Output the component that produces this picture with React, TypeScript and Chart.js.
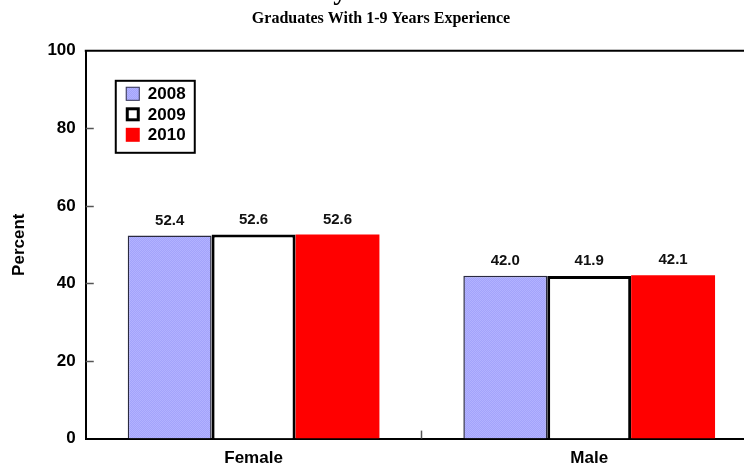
import React, { useEffect, useRef } from "react";
import { Chart, registerables } from "chart.js";

Chart.register(...registerables);

const categories = ["Female", "Male"];
const seriesLabels = ["2008", "2009", "2010"];
const values2008 = [52.4, 42.0];
const values2009 = [52.6, 41.9];
const values2010 = [52.6, 42.1];
const yTickValues = [0, 20, 40, 60, 80, 100];
const titleLines = ["Percent of Graduates", "by Gender"];
const subtitleText = "Graduates With 1-9 Years Experience";
const yAxisTitle = "Percent";

const SANS = "Arial, 'Liberation Sans', sans-serif";
const SERIF = "'Times New Roman', 'Liberation Serif', serif";

const frameAndTicks = {
  id: "frameAndTicks",
  afterDraw(chart: any) {
    const { ctx, chartArea } = chart;
    const y = chart.scales.y;
    const x = chart.scales.x;
    ctx.save();
    ctx.strokeStyle = "#000";
    ctx.lineWidth = 2;
    ctx.beginPath();
    ctx.moveTo(chartArea.left - 1, chartArea.top);
    ctx.lineTo(chartArea.right, chartArea.top);
    ctx.stroke();
    ctx.strokeStyle = "#555";
    ctx.lineWidth = 1.5;
    yTickValues.forEach((v) => {
      if (v === 0 || v === 100) return;
      const py = Math.round(y.getPixelForValue(v)) + 0.5;
      ctx.beginPath();
      ctx.moveTo(chartArea.left, py);
      ctx.lineTo(chartArea.left + 8, py);
      ctx.stroke();
    });
    for (let i = 0; i < categories.length - 1; i++) {
      const px = Math.round((x.getPixelForValue(i) + x.getPixelForValue(i + 1)) / 2) + 0.5;
      ctx.beginPath();
      ctx.moveTo(px, chartArea.bottom);
      ctx.lineTo(px, chartArea.bottom - 8);
      ctx.stroke();
    }
    ctx.restore();
  },
};

const valueLabels = {
  id: "valueLabels",
  afterDatasetsDraw(chart: any) {
    const { ctx } = chart;
    ctx.save();
    ctx.font = `bold 15px ${SANS}`;
    ctx.fillStyle = "#111";
    ctx.textAlign = "center";
    ctx.textBaseline = "middle";
    chart.data.datasets.forEach((ds: any, di: number) => {
      const meta = chart.getDatasetMeta(di);
      meta.data.forEach((el: any, i: number) => {
        ctx.fillText(Number(ds.data[i]).toFixed(1), el.x, el.y - 15);
      });
    });
    ctx.restore();
  },
};

const insideLegend = {
  id: "insideLegend",
  afterDraw(chart: any) {
    const { ctx, chartArea } = chart;
    const bx = chartArea.left + 30;
    const by = chartArea.top + 30;
    const bw = 79;
    const bh = 72;
    ctx.save();
    ctx.fillStyle = "#fff";
    ctx.fillRect(bx, by, bw, bh);
    ctx.strokeStyle = "#000";
    ctx.lineWidth = 2;
    ctx.strokeRect(bx, by, bw, bh);
    ctx.font = `bold 17px ${SANS}`;
    ctx.textBaseline = "middle";
    ctx.textAlign = "left";
    chart.data.datasets.forEach((ds: any, i: number) => {
      const cy = by + 13 + i * 20.5;
      const sx = bx + 10;
      const s = 14;
      ctx.fillStyle = ds.legendFill;
      ctx.fillRect(sx, cy - s / 2, s, s);
      if (ds.legendBorderWidth > 0) {
        ctx.strokeStyle = ds.legendBorder;
        ctx.lineWidth = ds.legendBorderWidth;
        const o = ds.legendBorderWidth / 2;
        ctx.strokeRect(sx + o, cy - s / 2 + o, s - 2 * o, s - 2 * o);
      }
      ctx.fillStyle = "#000";
      ctx.fillText(ds.label, bx + 32, cy + 1);
    });
    ctx.restore();
  },
};

function makePattern(): any {
  const c = document.createElement("canvas");
  c.width = 2;
  c.height = 2;
  const g = c.getContext("2d")!;
  g.fillStyle = "#a3a3fb";
  g.fillRect(0, 0, 2, 2);
  g.fillStyle = "#b2b2ff";
  g.fillRect(0, 0, 1, 1);
  g.fillRect(1, 1, 1, 1);
  const ctx = document.createElement("canvas").getContext("2d")!;
  return ctx.createPattern(c, "repeat");
}

const OFFSET_TOP = -56;
const CANVAS_W = 816;
const CANVAS_H = 540;

export default function App() {
  const ref = useRef<HTMLCanvasElement>(null);
  useEffect(() => {
    if (!ref.current) return;
    const pattern = makePattern() || "#aaaafd";
    const chart = new Chart(ref.current, {
      type: "bar",
      data: {
        labels: categories,
        datasets: [
          {
            label: seriesLabels[0],
            data: values2008,
            backgroundColor: pattern,
            borderColor: "#2a2a40",
            borderWidth: 1.5,
            legendFill: pattern,
            legendBorder: "#3a3a50",
            legendBorderWidth: 1,
          } as any,
          {
            label: seriesLabels[1],
            data: values2009,
            backgroundColor: "#ffffff",
            borderColor: "#000000",
            borderWidth: 3,
            legendFill: "#ffffff",
            legendBorder: "#000000",
            legendBorderWidth: 3,
          } as any,
          {
            label: seriesLabels[2],
            data: values2010,
            backgroundColor: "#ff0000",
            borderWidth: 0,
            legendFill: "#ff0000",
            legendBorder: "#ff0000",
            legendBorderWidth: 0,
          } as any,
        ],
      },
      options: {
        responsive: false,
        animation: false,
        layout: { padding: { left: 5, right: 59, top: 0, bottom: 5 } },
        datasets: {
          bar: { categoryPercentage: 0.75, barPercentage: 1.0 },
        },
        plugins: {
          legend: { display: false },
          tooltip: { enabled: false },
          title: {
            display: true,
            text: titleLines,
            font: { family: SERIF, size: 28, weight: "bold", lineHeight: 1.1 },
            color: "#000",
            padding: { top: 2, bottom: 2 },
          },
          subtitle: {
            display: true,
            text: subtitleText,
            font: { family: SERIF, size: 16, weight: "bold", lineHeight: 1.2 },
            color: "#000",
            padding: { top: 0, bottom: 22 },
          },
        },
        scales: {
          x: {
            grid: { display: false, drawTicks: false },
            border: { display: true, color: "#000", width: 2 },
            ticks: {
              font: { family: SANS, size: 17, weight: "bold" },
              color: "#000",
              padding: 10,
            },
          },
          y: {
            min: 0,
            max: 100,
            afterBuildTicks(scale: any) {
              scale.ticks = yTickValues.map((v) => ({ value: v }));
            },
            grid: { display: false, drawTicks: false },
            border: { display: true, color: "#000", width: 2 },
            ticks: {
              font: { family: SANS, size: 17, weight: "bold" },
              color: "#000",
              padding: 10,
            },
            title: {
              display: true,
              text: yAxisTitle,
              font: { family: SANS, size: 17, weight: "bold" },
              color: "#000",
              padding: { top: 4, bottom: 8 },
            },
          },
        },
      },
      plugins: [frameAndTicks, valueLabels, insideLegend],
    });
    return () => chart.destroy();
  }, []);
  return (
    <div
      style={{
        position: "fixed",
        left: 0,
        top: OFFSET_TOP,
        width: CANVAS_W,
        height: CANVAS_H,
        background: "#fff",
      }}
    >
      <canvas ref={ref} width={CANVAS_W} height={CANVAS_H} style={{ width: CANVAS_W, height: CANVAS_H }} />
    </div>
  );
}
